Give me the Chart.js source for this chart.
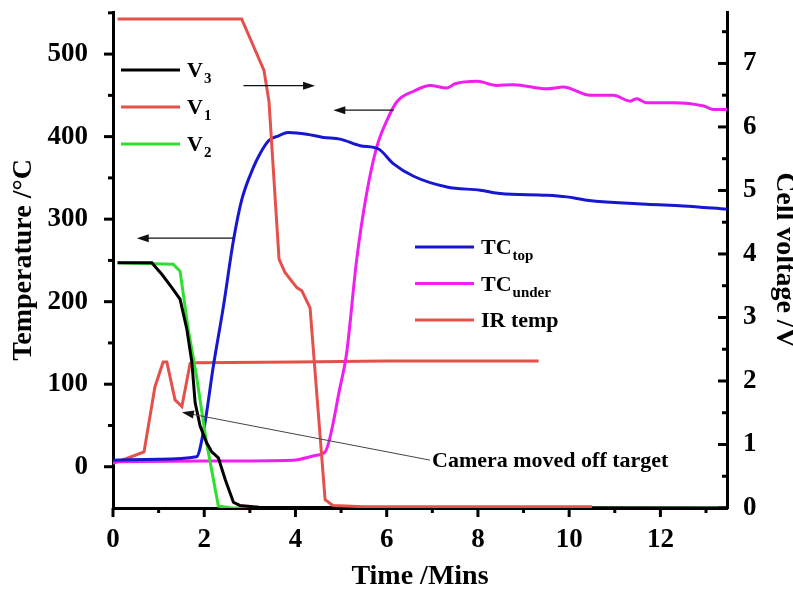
<!DOCTYPE html>
<html lang="en">
<head>
  <meta charset="UTF-8">
  <title>Temperature and cell voltage</title>
  <style>
    html, body { margin: 0; padding: 0; background: #fff; }
    .wrapper { width: 793px; height: 592px; }
  </style>
</head>
<body>
  <div class="wrapper">
    <canvas id="chart" width="793" height="592"></canvas>
  </div>

  <script src="https://cdn.jsdelivr.net/npm/chart.js"></script>
  <script>
    // tick labels
    const timeTicks = [0, 2, 4, 6, 8, 10, 12]
    const timeMinorTicks = [1, 3, 5, 7, 9, 11, 13]
    const tempTicks = [0, 100, 200, 300, 400, 500]
    const tempMinorTicks = [50, 150, 250, 350, 450, 550]
    const voltTicks = [0, 1, 2, 3, 4, 5, 6, 7]
    const voltMinorTicks = [0.5, 1.5, 2.5, 3.5, 4.5, 5.5, 6.5, 7.5]

    // cell voltages (right axis)
    const v1Time = [0.1, 2.82, 3.31, 3.42, 3.64, 3.77, 4.03, 4.14, 4.32, 4.65, 4.82, 5.5, 10.5]
    const v1Volt = [7.70, 7.70, 6.89, 6.40, 3.92, 3.71, 3.47, 3.42, 3.15, 0.13, 0.04, 0.02, 0.02]

    const v2Time = [0.1, 1.32, 1.47, 1.65, 1.83, 2.05, 2.31, 2.6, 13.46]
    const v2Volt = [3.86, 3.84, 3.73, 2.81, 2.08, 1.03, 0.03, 0.0, 0.0]

    const v3Time = [0.1, 0.85, 1.07, 1.29, 1.47, 1.62, 1.73, 1.80, 1.91, 2.05, 2.16, 2.31, 2.46, 2.64, 2.78, 3.2, 13.46]
    const v3Volt = [3.86, 3.86, 3.68, 3.47, 3.29, 2.81, 2.29, 1.66, 1.29, 1.03, 0.89, 0.79, 0.45, 0.09, 0.04, 0.01, 0.0]

    // temperatures (left axis)
    const topTime = [0, 1.0, 1.83, 2.0, 2.2, 2.42, 2.64, 2.82, 3.08, 3.22, 3.41, 3.63, 3.84, 4.25, 4.61, 4.98, 5.42, 5.82, 6.15, 6.59, 7.32, 8.05, 8.49, 9.51, 9.95, 10.39, 11.7, 12.5, 13.46]
    const topTemp = [8, 9, 12, 48, 122, 194, 274, 323, 363, 379, 395, 401, 405, 403, 399, 397, 389, 385, 367, 352, 339, 335, 331, 329, 327, 323, 318, 316, 312]

    const underTime = [0, 2, 3.95, 4.47, 4.65, 4.98, 5.12, 5.34, 5.56, 5.78, 6.0, 6.22, 6.59, 6.95, 7.32, 7.5, 7.98, 8.41, 8.78, 9.51, 9.87, 10.46, 10.97, 11.34, 11.48, 11.7, 12.29, 12.95, 13.16, 13.46]
    const underTemp = [6, 7, 8, 14, 18, 97, 137, 250, 331, 387, 419, 442, 455, 462, 459, 464, 467, 462, 463, 458, 460, 450, 450, 443, 446, 441, 441, 437, 433, 433]

    const irTime = [0, 0.3, 0.68, 0.92, 1.10, 1.18, 1.36, 1.51, 1.69, 1.83, 4, 6, 9.33]
    const irTemp = [4, 10, 18, 97, 127, 127, 81, 73, 125, 126, 127, 128, 128]

    const red = '#e4514b'
    const blue = '#1717cf'
    const magenta = '#f01ef0'
    const green = '#2de02d'

    const pts = (xs, ys) => xs.map((t, i) => ({x: t, y: ys[i]}))
    const serif = '"Liberation Serif", "Times New Roman", serif'

    function line(label, xs, ys, color, axis, smooth) {
      return {
        label: label,
        data: pts(xs, ys),
        yAxisID: axis,
        borderColor: color,
        backgroundColor: color,
        borderWidth: 3,
        pointRadius: 0,
        fill: false,
        cubicInterpolationMode: smooth ? 'monotone' : 'default',
        tension: 0
      }
    }

    function drawLabel(ctx, main, sub, x, y) {
      ctx.fillStyle = '#000'
      ctx.textAlign = 'left'
      ctx.textBaseline = 'alphabetic'
      ctx.font = 'bold 22px ' + serif
      ctx.fillText(main, x, y + 7)
      if (sub) {
        const w = ctx.measureText(main).width
        ctx.font = 'bold 15px ' + serif
        ctx.fillText(sub, x + w + 1, y + 13)
      }
    }

    function drawArrow(ctx, x0, y0, x1, y1) {
      const ang = Math.atan2(y1 - y0, x1 - x0)
      const len = 12, half = 4
      ctx.beginPath()
      ctx.moveTo(x0, y0)
      ctx.lineTo(x1 - Math.cos(ang) * len * 0.8, y1 - Math.sin(ang) * len * 0.8)
      ctx.stroke()
      ctx.beginPath()
      ctx.moveTo(x1, y1)
      ctx.lineTo(x1 - Math.cos(ang) * len - Math.sin(ang) * half, y1 - Math.sin(ang) * len + Math.cos(ang) * half)
      ctx.lineTo(x1 - Math.cos(ang) * len + Math.sin(ang) * half, y1 - Math.sin(ang) * len - Math.cos(ang) * half)
      ctx.closePath()
      ctx.fill()
    }

    // tick marks, legends, arrows and the note
    const decorations = {
      id: 'decorations',
      afterDraw(chart) {
        const ctx = chart.ctx
        const a = chart.chartArea
        const sx = chart.scales.x, sl = chart.scales.y, sr = chart.scales.y1
        ctx.save()
        ctx.strokeStyle = '#000'
        ctx.lineWidth = 3
        const seg = (x0, y0, x1, y1) => { ctx.beginPath(); ctx.moveTo(x0, y0); ctx.lineTo(x1, y1); ctx.stroke() }
        timeTicks.forEach(v => { const p = sx.getPixelForValue(v); seg(p, a.bottom, p, a.bottom + 9) })
        timeMinorTicks.forEach(v => { const p = sx.getPixelForValue(v); seg(p, a.bottom, p, a.bottom + 5) })
        tempTicks.forEach(v => { const p = sl.getPixelForValue(v); seg(a.left - 9, p, a.left, p) })
        tempMinorTicks.forEach(v => { const p = sl.getPixelForValue(v); seg(a.left - 5, p, a.left, p) })
        voltTicks.forEach(v => { const p = sr.getPixelForValue(v); seg(a.right - 9, p, a.right, p) })
        voltMinorTicks.forEach(v => { const p = sr.getPixelForValue(v); seg(a.right - 5, p, a.right, p) })

        // legends
        const ds = label => chart.data.datasets.find(d => d.label === label).borderColor
        const legendA = [['V', '3', 'V3'], ['V', '1', 'V1'], ['V', '2', 'V2']]
        const legendB = [['TC', 'top', 'TCtop'], ['TC', 'under', 'TCunder'], ['IR temp', '', 'IR temp']]
        ctx.lineWidth = 3
        legendA.forEach((it, i) => {
          const y = a.top + 58 + i * 37
          ctx.strokeStyle = ds(it[2])
          seg(a.left + 8, y, a.left + 67, y)
          drawLabel(ctx, it[0], it[1], a.left + 74, y)
        })
        legendB.forEach((it, i) => {
          const y = a.top + 235 + i * 36.5
          ctx.strokeStyle = ds(it[2])
          seg(a.left + 302, y, a.left + 361, y)
          drawLabel(ctx, it[0], it[1], a.left + 368, y)
        })

        // arrows pointing each curve to its axis
        ctx.strokeStyle = '#111'
        ctx.fillStyle = '#111'
        ctx.lineWidth = 1.2
        const arrows = [
          {s: sl, from: [2.64, 277], to: [0.52, 277]},
          {s: sr, from: [2.86, 6.65], to: [4.43, 6.65]},
          {s: sl, from: [6.15, 432], to: [4.83, 432]}
        ]
        arrows.forEach(ar => {
          drawArrow(ctx, sx.getPixelForValue(ar.from[0]), ar.s.getPixelForValue(ar.from[1]),
            sx.getPixelForValue(ar.to[0]), ar.s.getPixelForValue(ar.to[1]))
        })

        // note
        ctx.strokeStyle = '#444'
        ctx.fillStyle = '#111'
        ctx.lineWidth = 1
        drawArrow(ctx, sx.getPixelForValue(6.95), sl.getPixelForValue(8),
          sx.getPixelForValue(1.51), sl.getPixelForValue(66))
        ctx.fillStyle = '#000'
        ctx.font = 'bold 22px ' + serif
        ctx.textAlign = 'left'
        ctx.textBaseline = 'alphabetic'
        ctx.fillText('Camera moved off target', sx.getPixelForValue(6.95) + 2, sl.getPixelForValue(8) + 7)
        ctx.restore()
      }
    }

    const tickFont = {family: serif, size: 27, weight: 'bold'}
    const titleFont = {family: serif, size: 28, weight: 'bold'}

    const config = {
      type: 'line',
      data: {
        datasets: [
          line('V1', v1Time, v1Volt, red, 'y1', false),
          line('V3', v3Time, v3Volt, '#000', 'y1', false),
          line('V2', v2Time, v2Volt, green, 'y1', false),
          line('TCtop', topTime, topTemp, blue, 'y', true),
          line('TCunder', underTime, underTemp, magenta, 'y', true),
          line('IR temp', irTime, irTemp, red, 'y', false)
        ]
      },
      options: {
        responsive: false,
        animation: false,
        layout: {padding: {top: 12, left: 0, right: 0, bottom: 0}},
        plugins: {
          legend: {display: false},
          tooltip: {enabled: false}
        },
        scales: {
          x: {
            type: 'linear',
            min: 0,
            max: 13.46,
            afterBuildTicks: s => { s.ticks = timeTicks.map(v => ({value: v})) },
            afterFit: s => { s.height = 84; s.paddingLeft = 0; s.paddingRight = 0 },
            grid: {display: false},
            border: {display: true, color: '#000', width: 3},
            ticks: {color: '#000', font: tickFont, padding: 8, maxRotation: 0},
            title: {display: true, text: 'Time /Mins', color: '#000', font: titleFont, padding: {top: 0, bottom: -2}}
          },
          y: {
            position: 'left',
            min: -50,
            max: 551,
            afterBuildTicks: s => { s.ticks = tempTicks.map(v => ({value: v})) },
            afterFit: s => { s.width = 113; s.paddingTop = 0; s.paddingBottom = 0 },
            grid: {display: false},
            border: {display: true, color: '#000', width: 3},
            ticks: {color: '#000', font: tickFont, padding: 17},
            title: {display: true, text: 'Temperature /°C', color: '#000', font: titleFont, padding: {top: 7, bottom: 0}}
          },
          y1: {
            position: 'right',
            min: 0,
            max: 7.81,
            afterBuildTicks: s => { s.ticks = voltTicks.map(v => ({value: v})) },
            afterFit: s => { s.width = 66; s.paddingTop = 0; s.paddingBottom = 0 },
            grid: {display: false},
            border: {display: true, color: '#000', width: 3},
            ticks: {color: '#000', font: tickFont, padding: 8},
            title: {display: true, text: 'Cell voltage /V', color: '#000', font: titleFont, padding: {top: -8, bottom: 0}}
          }
        }
      },
      plugins: [decorations]
    }

    const chart = new Chart(document.getElementById('chart'), config)
  </script>
</body>
</html>
